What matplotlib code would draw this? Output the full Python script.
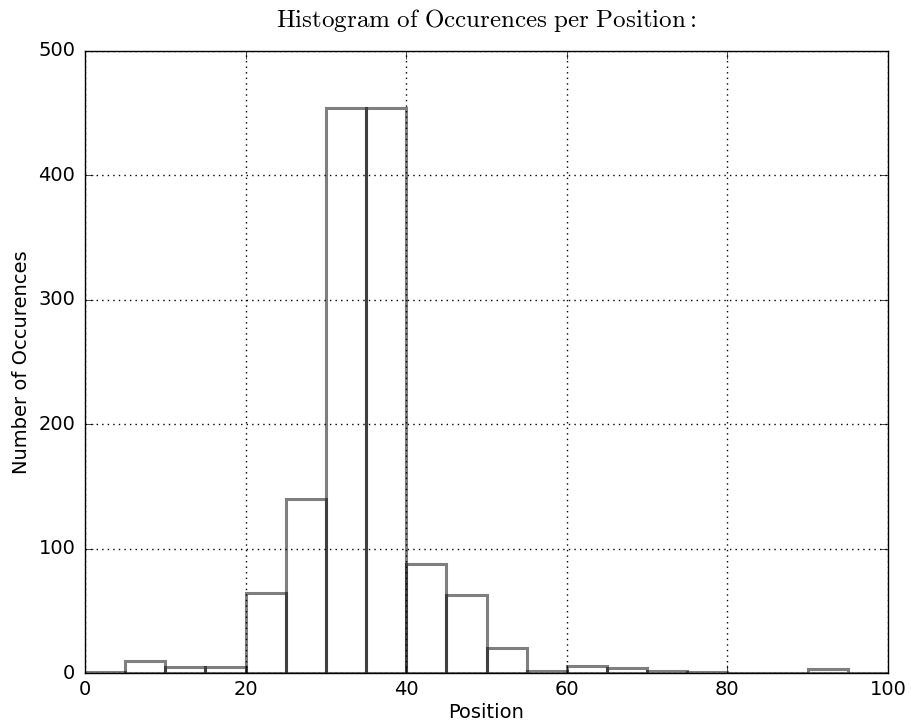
import matplotlib
matplotlib.use("Agg")
import matplotlib.pyplot as plt
import numpy as np

# histogram counts per 5-wide position bin
bin_lefts = [0, 5, 10, 15, 20, 25, 30, 35, 40, 45, 50, 55, 60, 65, 70, 75, 80, 85, 90, 95]
counts = [1, 10, 5, 5, 64, 140, 454, 454, 88, 63, 20, 2, 6, 4, 2, 1, 0, 0, 3, 0]
bin_width = 5
xticks = [0, 20, 40, 60, 80, 100]
yticks = [0, 100, 200, 300, 400, 500]

plt.style.use("classic")
plt.rcParams["font.size"] = 14
plt.rcParams["xtick.major.size"] = 6
plt.rcParams["ytick.major.size"] = 6
plt.rcParams["xtick.major.pad"] = 5
plt.rcParams["ytick.major.pad"] = 7
plt.rcParams["grid.linewidth"] = 1.0

fig = plt.figure(figsize=(9.12, 7.24), dpi=100, facecolor="white")
ax = fig.add_subplot(111)
fig.subplots_adjust(left=0.0932, right=0.9737, top=0.9296, bottom=0.0704)

ax.bar(bin_lefts, counts, width=bin_width, align="edge",
       facecolor="none", edgecolor=(0, 0, 0, 0.5), linewidth=2.2)

ax.set_xlim(0, 100)
ax.set_ylim(0, 500)
ax.set_xticks(xticks)
ax.set_yticks(yticks)
ax.grid(True)
ax.set_xlabel("Position", labelpad=3)
ax.set_ylabel("Number of Occurences", labelpad=5)
ax.set_title(r"$\mathrm{Histogram\ of\ Occurences\ per\ Position:}$", fontsize=18, pad=17)

fig.savefig("out.png", dpi=100, facecolor="white")
